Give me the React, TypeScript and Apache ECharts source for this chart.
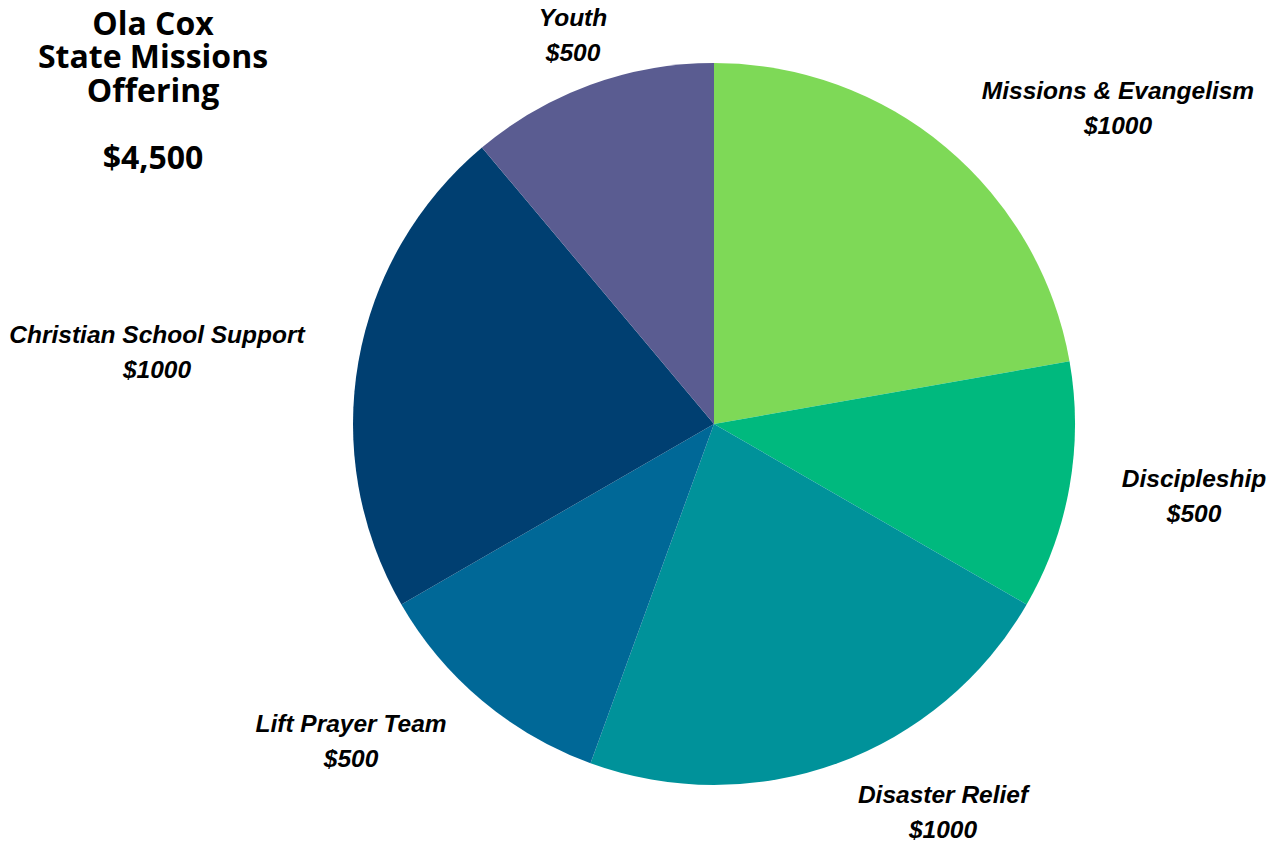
import React, { useEffect, useRef } from "react";
import * as echarts from "echarts";

const categories = [
  "Missions & Evangelism",
  "Discipleship",
  "Disaster Relief",
  "Lift Prayer Team",
  "Christian School Support",
  "Youth",
];
const values = [1000, 500, 1000, 500, 1000, 500];
const colors = ["#7ED957", "#00B97E", "#00929A", "#006897", "#003F71", "#5A5C91"];
const titleLines = ["Ola Cox", "State Missions", "Offering"];
const totalLabel = "$4,500";

// label centre positions (middle of the two-line label), in px
const labelPos: [number, number][] = [
  [1118, 108],
  [1194, 496],
  [943, 812],
  [351, 741],
  [157, 352],
  [573, 35],
];

const titleFont = {
  fontFamily: "Open Sans",
  fontWeight: 700,
  fontSize: 32,
  lineHeight: 32,
  color: "#000000",
};

export default function App() {
  const ref = useRef<HTMLDivElement>(null);
  useEffect(() => {
    if (!ref.current) return;
    const chart = echarts.init(ref.current, null, { renderer: "svg" });
    chart.setOption({
      animation: false,
      backgroundColor: "#ffffff",
      title: [
        ...titleLines.map((t, i) => ({
          text: t,
          left: 153,
          top: 6 + i * 33.5,
          textAlign: "center",
          padding: 0,
          textStyle: titleFont,
        })),
        {
          text: totalLabel,
          left: 153,
          top: 140,
          textAlign: "center",
          padding: 0,
          textStyle: titleFont,
        },
      ],
      series: [
        {
          type: "pie",
          center: [714, 424],
          radius: [0, 361],
          startAngle: 90,
          clockwise: true,
          data: categories.map((name, i) => ({
            name,
            value: values[i],
            itemStyle: { color: colors[i] },
          })),
          label: {
            show: true,
            position: "outside",
            formatter: (p: any) => `${p.name}\n$${p.value}`,
            fontFamily: "Liberation Sans",
            fontStyle: "italic",
            fontWeight: 700,
            fontSize: 24.5,
            lineHeight: 35,
            color: "#000000",
            align: "center",
          },
          labelLine: { show: false },
          labelLayout: (params: any) => ({
            x: labelPos[params.dataIndex][0],
            y: labelPos[params.dataIndex][1],
            align: "center",
            verticalAlign: "middle",
          }),
          emphasis: { disabled: true },
        },
      ],
    });
    return () => chart.dispose();
  }, []);
  return (
    <div
      ref={ref}
      style={{ position: "absolute", left: 0, top: 0, width: 1277, height: 841 }}
    />
  );
}
